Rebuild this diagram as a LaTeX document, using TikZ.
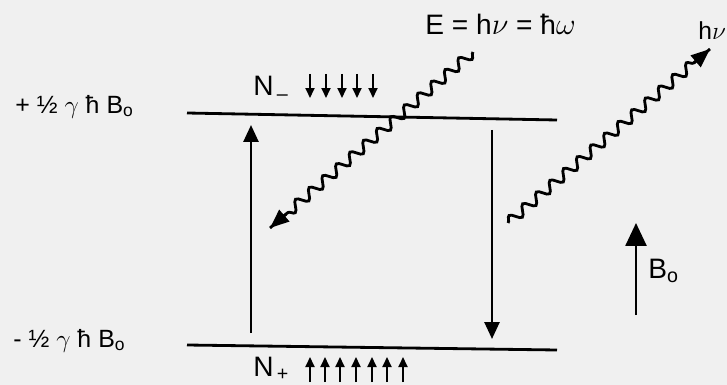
\documentclass[tikz,border=0pt]{standalone}
\usepackage{fontspec}
\setmainfont{Liberation Sans}
\usetikzlibrary{arrows.meta,decorations.pathmorphing,positioning}

\begin{document}
\begin{tikzpicture}[
  x=0.02cm, y=-0.02cm,
  >={Triangle[length=0.34cm,width=0.3cm]},
  level/.style={line width=1.6pt},
  trans/.style={->, line width=1.5pt},
  photon/.style={line width=1.6pt, decorate,
    decoration={snake, amplitude=0.1cm, segment length=0.36cm, post length=0.4cm}},
  tip/.style={line width=1.6pt, -{Triangle[length=0.38cm,width=0.3cm]}},
  spin/.style={line width=1pt, -{Triangle[length=0.2cm,width=0.18cm]}},
  lbl/.style={inner sep=0pt, anchor=base west, font=\fontsize{14.2}{16}\selectfont},
  pop/.style={inner sep=0pt, anchor=base west, font=\fontsize{16}{19}\selectfont}
]
\useasboundingbox (0,0) rectangle (727,385);
\fill[black!6] (0,0) rectangle (727,385);

% energy levels
\coordinate (up-l) at (187,113);
\coordinate (up-r) at (557,120);
\coordinate (lo-l) at (187,345);
\coordinate (lo-r) at (557,350);
\draw[level] (up-l) -- (up-r);
\draw[level] (lo-l) -- (lo-r);

\node[lbl] (e-up) at (15,113) {+ ½ $\gamma$ ħ B\textsubscript{o}};
\node[lbl] (e-lo) at (13,347) {- ½ $\gamma$ ħ B\textsubscript{o}};

% populations
\node[pop] (n-minus) at (253,96)  {N\textsubscript{\,–}};
\node[pop] (n-plus)  at (253,376) {N\textsubscript{\,+}};

\foreach \x [count=\i] in {310,326,342,357,373}{
  \coordinate (dn\i-a) at (\x,74);
  \coordinate (dn\i-b) at (\x,98);
  \draw[spin] (dn\i-a) -- (dn\i-b);
}
\foreach \x [count=\i] in {310,325,340,356,372,387,403}{
  \coordinate (upsp\i-a) at (\x,382);
  \coordinate (upsp\i-b) at (\x,357);
  \draw[spin] (upsp\i-a) -- (upsp\i-b);
}

% transitions
\coordinate (abs-a) at (251,333);
\coordinate (abs-b) at (251,125);
\coordinate (emi-a) at (492,130);
\coordinate (emi-b) at (492,339);
\draw[trans] (abs-a) -- (abs-b);
\draw[trans] (emi-a) -- (emi-b);

% photons
\node[pop] (energy) at (425,35) {E = h$\nu$ = ħ$\omega$};
\node[inner sep=0pt, anchor=base west, font=\fontsize{14}{16}\selectfont] (hnu) at (698,40) {h$\nu$};
\coordinate (in-s)  at (473,52);
\coordinate (in-e)  at (270,228);
\coordinate (out-s) at (508,223);
\coordinate (out-e) at (710,49);
\draw[photon] (in-s) -- (in-e);
\draw[photon] (out-s) -- (out-e);
\path (in-s) -- (in-e) coordinate[pos=0.92] (in-t);
\path (out-s) -- (out-e) coordinate[pos=0.92] (out-t);
\draw[tip] (in-t) -- (in-e);
\draw[tip] (out-t) -- (out-e);

% field
\coordinate (b-a) at (636,315);
\coordinate (b-b) at (636,223);
\draw[line width=1.5pt, -{Triangle[length=0.46cm,width=0.42cm]}] (b-a) -- (b-b);
\node[inner sep=0pt, anchor=base west, font=\fontsize{16}{18}\selectfont] (b-lbl) at (648,278) {B\textsubscript{o}};

\end{tikzpicture}
\end{document}
